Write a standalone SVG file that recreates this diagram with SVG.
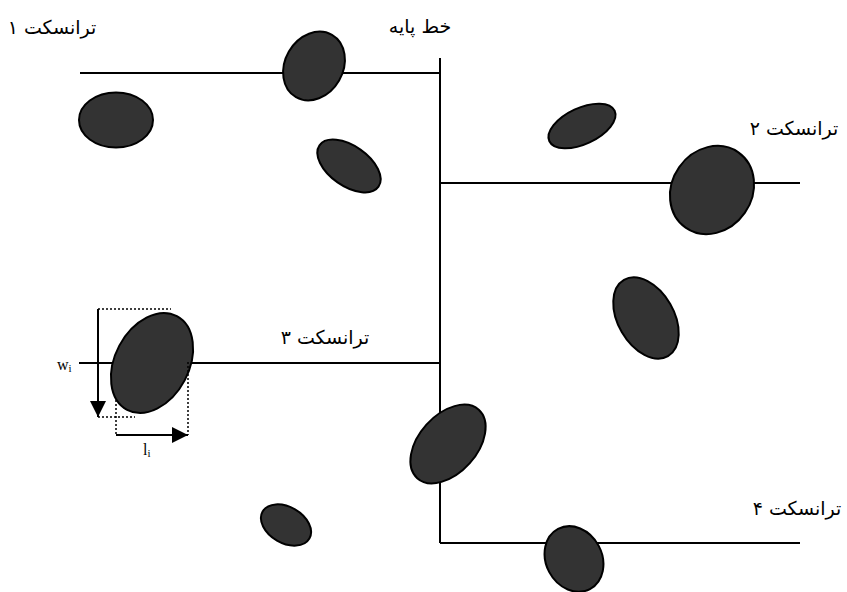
<svg xmlns="http://www.w3.org/2000/svg" width="847" height="592" viewBox="0 0 847 592">
  <style>
    .line { stroke: #000; stroke-width: 2; fill: none; }
    .dot { stroke: #000; stroke-width: 1.5; stroke-dasharray: 2 2; fill: none; }
    .blob { fill: #333333; stroke: #000; stroke-width: 2; }
    .fa { font-family: "DejaVu Sans", "Noto Sans", sans-serif; font-size: 19px; fill: #000; text-anchor: middle; }
    .lat { font-family: "Liberation Serif", serif; font-size: 16px; fill: #000; }
  </style>
  <defs>
    <marker id="head" viewBox="0 0 10 10" refX="10" refY="5" markerWidth="8" markerHeight="8" orient="auto" markerUnits="strokeWidth">
      <path d="M0,0 L10,5 L0,10 Z" fill="#000"/>
    </marker>
  </defs>

  <rect width="847" height="592" fill="#fff"/>

  <!-- baseline and transect lines -->
  <g id="connectors">
    <line class="line" x1="440" y1="58" x2="440" y2="543"/>
    <line class="line" x1="80" y1="73" x2="440" y2="73"/>
    <line class="line" x1="440" y1="183" x2="800" y2="183"/>
    <line class="line" x1="79" y1="363" x2="440" y2="363"/>
    <line class="line" x1="440" y1="543" x2="800" y2="543"/>
  </g>

  <!-- patches -->
  <g id="patch1"><ellipse class="blob" cx="314" cy="66" rx="29" ry="36" transform="rotate(30 314 66)"/></g>
  <g id="patch2"><ellipse class="blob" cx="116" cy="120" rx="37" ry="27.5"/></g>
  <g id="patch3"><ellipse class="blob" cx="349" cy="166" rx="36" ry="20" transform="rotate(35 349 166)"/></g>
  <g id="patch4"><ellipse class="blob" cx="582" cy="126" rx="36" ry="18" transform="rotate(-25 582 126)"/></g>
  <g id="patch5"><ellipse class="blob" cx="712" cy="190" rx="40" ry="46" transform="rotate(35 712 190)"/></g>
  <g id="patch6"><ellipse class="blob" cx="646" cy="318" rx="28" ry="44" transform="rotate(-30 646 318)"/></g>
  <g id="patch7"><ellipse class="blob" cx="152" cy="363" rx="37" ry="53" transform="rotate(28 152 363)"/></g>
  <g id="patch8"><ellipse class="blob" cx="448" cy="444" rx="29" ry="46" transform="rotate(42 448 444)"/></g>
  <g id="patch9"><ellipse class="blob" cx="574" cy="559" rx="28" ry="34" transform="rotate(-28 574 559)"/></g>
  <g id="patch10"><ellipse class="blob" cx="286" cy="525" rx="27" ry="18" transform="rotate(30 286 525)"/></g>

  <!-- width / length measurement of a patch -->
  <g id="measure">
    <line class="dot" x1="98" y1="309" x2="171" y2="309"/>
    <line class="dot" x1="98" y1="417" x2="135" y2="417"/>
    <line class="dot" x1="116" y1="400" x2="116" y2="435"/>
    <line class="dot" x1="188" y1="362" x2="188" y2="435"/>
    <line class="line" x1="98" y1="309" x2="98" y2="417" marker-end="url(#head)"/>
    <line class="line" x1="116" y1="435" x2="188" y2="435" marker-end="url(#head)"/>
    <text class="lat" x="57" y="370">w<tspan font-size="11" dy="2">i</tspan></text>
    <text class="lat" x="143" y="455">l<tspan font-size="11" dy="2">i</tspan></text>
  </g>

  <!-- labels -->
  <g id="label-baseline"><text class="fa" x="420" y="33">خط پایه</text></g>
  <g id="label-t1"><text class="fa" x="52" y="34">ترانسکت ۱</text></g>
  <g id="label-t2"><text class="fa" x="794" y="135">ترانسکت ۲</text></g>
  <g id="label-t3"><text class="fa" x="325" y="344">ترانسکت ۳</text></g>
  <g id="label-t4"><text class="fa" x="797" y="515">ترانسکت ۴</text></g>
</svg>
